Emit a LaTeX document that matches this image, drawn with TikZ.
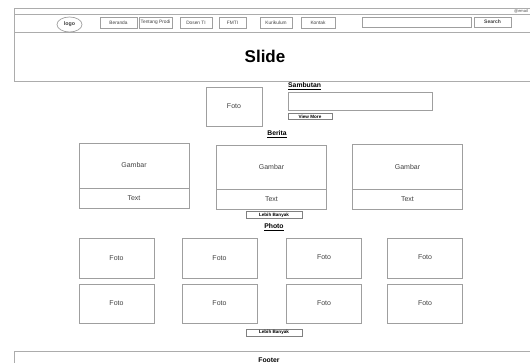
\documentclass[tikz,border=0pt]{standalone}
\usepackage{fontspec}
\setmainfont{Liberation Sans}
\usetikzlibrary{positioning,shapes.geometric}

\tikzset{
	frame/.style={draw=gray!65, line width=0.8pt},
	box/.style={draw=gray!75, line width=0.7pt, inner sep=0pt, text=black!75,
		font=\fontsize{7}{8}\selectfont},
	menu/.style={box, minimum height=11pt, font=\fontsize{4.8}{5}\selectfont},
	btn/.style={draw=gray, line width=0.6pt, inner sep=0pt,
		font=\bfseries\fontsize{4.6}{5}\selectfont},
	title/.style={inner sep=0pt, font=\bfseries\fontsize{6.8}{7}\selectfont},
	card/.style={box, minimum width=110pt},
	foto/.style={box, minimum width=75pt, minimum height=39.5pt},
}

\begin{document}
\begin{tikzpicture}[x=1pt,y=-1pt]
		\useasboundingbox (0,0) rectangle (530,363);
		
		% header frame
		\draw[frame] (14,81) -- (14,8) -- (530,8);
		\draw[frame] (14,14) -- (530,14);
		\draw[frame] (14,32) -- (530,32);
		\draw[frame] (14,81) -- (530,81);
		\node[anchor=west, inner sep=0pt, text=black!70, font=\fontsize{4}{4}\selectfont] (email) at (514,11) {@email};
		
		\node[box, ellipse, minimum width=25pt, minimum height=15pt, font=\bfseries\fontsize{5.3}{6}\selectfont] (logo) at (69.5,24.5) {logo};
		\node[menu, minimum width=37pt] (beranda) at (118.5,22.5) {Beranda};
		\node[menu, minimum width=33pt] (tentang) at (155.5,22.5) {Tentang Prodi};
		\node[menu, minimum width=32pt] (dosen) at (196,22.5) {Dosen TI};
		\node[menu, minimum width=27pt] (fmti) at (232.5,22.5) {FMTI};
		\node[menu, minimum width=32pt] (kurikulum) at (276,22.5) {Kurikulum};
		\node[menu, minimum width=34pt] (kontak) at (318,22.5) {Kontak};
		\node[box, minimum width=109pt, minimum height=10pt] (cari) at (416.5,22) {};
		\node[menu, minimum width=37pt, minimum height=10pt, font=\bfseries\fontsize{5}{5}\selectfont] (search) at (492.5,22) {Search};
		
		\node[font=\bfseries\fontsize{17}{18}\selectfont] (slide) at (265,56) {Slide};
		
		% sambutan
		\node[box, minimum width=56pt, minimum height=39pt] (fotokaprodi) at (234,106.5) {Foto};
		\node[title, anchor=west] (sambutan) at (288,86) {\underline{Sambutan}};
		\node[box, minimum width=144pt, minimum height=18pt] (isi) at (360,101) {};
		\node[btn, minimum width=44pt, minimum height=5.5pt] (viewmore) at (310,116.5) {View More};
		
		% berita
		\node[title] (berita) at (277,134) {\underline{Berita}};
		\node[card, minimum height=45pt] (gambar1) at (134,165.5) {Gambar};
		\node[card, minimum height=20pt, below=-0.7pt of gambar1] (text1) {Text};
		\node[card, minimum height=44pt] (gambar2) at (271.5,167) {Gambar};
		\node[card, minimum height=20pt, below=-0.7pt of gambar2] (text2) {Text};
		\node[card, minimum height=45pt] (gambar3) at (407.5,166.5) {Gambar};
		\node[card, minimum height=20pt, below=-0.7pt of gambar3] (text3) {Text};
		\node[btn, minimum width=56pt, minimum height=7.5pt] (lebih1) at (274,215) {Lebih Banyak};
		
		% photo
		\node[title] (photo) at (274,227) {\underline{Photo}};
		\node[foto] (foto1) at (116.5,258.5) {Foto};
		\node[foto] (foto2) at (219.5,258.5) {Foto};
		\node[foto] (foto3) at (324,258.5) {\raisebox{3pt}{Foto}};
		\node[foto] (foto4) at (425,258.5) {\raisebox{3pt}{Foto}};
		\node[foto] (foto5) at (116.5,304) {\raisebox{2pt}{Foto}};
		\node[foto] (foto6) at (219.5,304) {\raisebox{2pt}{Foto}};
		\node[foto] (foto7) at (324,304) {\raisebox{2pt}{Foto}};
		\node[foto] (foto8) at (425,304) {\raisebox{2pt}{Foto}};
		\node[btn, minimum width=56pt, minimum height=7pt] (lebih2) at (274,332.5) {Lebih Banyak};
		
		% footer
		\draw[frame] (14,363) -- (14,351) -- (530,351);
		\node[title] (footer) at (269,360) {Footer};
\end{tikzpicture}
\end{document}
